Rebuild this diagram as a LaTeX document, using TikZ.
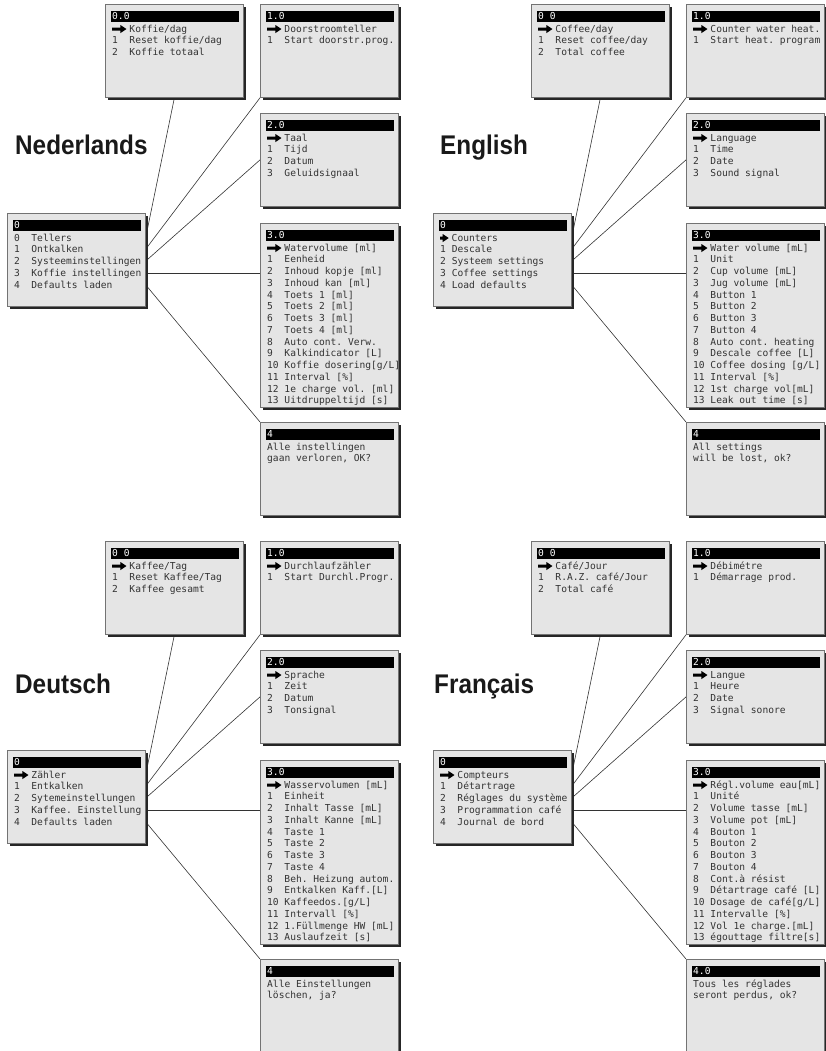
\documentclass[tikz,border=0pt]{standalone}
\usepackage{fontspec}
\setmainfont{Liberation Sans}
\setsansfont{Liberation Sans}
\setmonofont{DejaVu Sans Mono}
\usetikzlibrary{calc,shadows,backgrounds}

\newlength{\chw}
\setlength{\chw}{5.76pt}
% menu index column and menu arrow
\newcommand{\mi}[1]{\makebox[3\chw][l]{#1}}
\newcommand{\marr}[1][3]{\makebox[#1\chw][l]{\tikz[x=1pt,y=1pt,baseline=-3pt]\fill[black] (0,-1.5) -- ({#1*5.76-9},-1.5) -- ({#1*5.76-9},-4) -- ({#1*5.76-3},0) -- ({#1*5.76-9},4) -- ({#1*5.76-9},1.5) -- (0,1.5) -- cycle;}}

% display box: height, name, top left corner, header, rows
\newcommand{\lcdbox}[5][93]{%
  \node[lcd, minimum height=#1] (#2) at (#3) {};
  \fill[black] ($(#2.north west)+(6,7)$) rectangle ($(#2.north east)+(-5,18)$);
  \node[lcdhead] at ($(#2.north west)+(7,15.8)$) {#4};
  \node[lcdrows] at ($(#2.north west)+(7,19.6)$) {\strut#5};
}

% connectors from the main menu rows
\newcommand{\menulinks}[1]{%
  \foreach \row in {0,...,4}{\coordinate (#1m\row) at ($(#1m.north east)+(0,{24+12*\row})$);}
  \begin{scope}[on background layer]
    \draw[link] (#1m0) -- (#1b0.south);
    \draw[link] (#1m1) -- (#1b1.south west);
    \draw[link] (#1m2) -- (#1b2.west);
    \draw[link] (#1m3) -- (#1m3 -| #1b3.west);
    \draw[link] (#1m4) -- (#1b4.north west);
  \end{scope}
}

\begin{document}
\begin{tikzpicture}[x=1pt, y=-1pt,
    lcd/.style={rectangle, draw=black!55, line width=0.8pt, fill=gray!20, minimum width=138, anchor=north west, inner sep=0pt,
      drop shadow={shadow xshift=2.6pt, shadow yshift=-2.6pt, fill=black!85, opacity=1}},
    lcdhead/.style={anchor=base west, inner sep=0pt, text=white, font=\ttfamily\fontsize{9.6}{11.75}\selectfont},
    lcdrows/.style={anchor=north west, inner sep=0pt, align=left, text=black!80, font=\ttfamily\fontsize{9.6}{11.75}\selectfont},
    lang/.style={anchor=base west, inner sep=0pt, text=black!90, font=\sffamily\bfseries\fontsize{27}{27}\selectfont},
    link/.style={draw=black!80, line width=0.6pt}]

    \useasboundingbox (0,0) rectangle (826,1051);
    \clip (0,0) rectangle (826,1051);

    % Nederlands
    \node[lang] (nltitle) at (15,155) {\scalebox{0.9}[1]{Nederlands}};
    \lcdbox{nlb0}{105,4}{0.0}{\marr Koffie/dag\\
      \mi{1}Reset koffie/dag\\
      \mi{2}Koffie totaal}
    \lcdbox{nlb1}{260,4}{1.0}{\marr Doorstroomteller\\
      \mi{1}Start doorstr.prog.}
    \lcdbox{nlb2}{260,113}{2.0}{\marr Taal\\
      \mi{1}Tijd\\
      \mi{2}Datum\\
      \mi{3}Geluidsignaal}
    \lcdbox{nlm}{7,213}{0}{\mi{0}Tellers\\
      \mi{1}Ontkalken\\
      \mi{2}Systeeminstellingen\\
      \mi{3}Koffie instellingen\\
      \mi{4}Defaults laden}
    \lcdbox[184]{nlb3}{260,223}{3.0}{\marr Watervolume [ml]\\
      \mi{1}Eenheid\\
      \mi{2}Inhoud kopje [ml]\\
      \mi{3}Inhoud kan [ml]\\
      \mi{4}Toets 1 [ml]\\
      \mi{5}Toets 2 [ml]\\
      \mi{6}Toets 3 [ml]\\
      \mi{7}Toets 4 [ml]\\
      \mi{8}Auto cont. Verw.\\
      \mi{9}Kalkindicator [L]\\
      \mi{10}Koffie dosering[g/L]\\
      \mi{11}Interval [\%]\\
      \mi{12}1e charge vol. [ml]\\
      \mi{13}Uitdruppeltijd [s]}
    \lcdbox{nlb4}{260,422}{4}{Alle instellingen\\
      gaan verloren, OK?}
    \menulinks{nl}

    % English
    \node[lang] (entitle) at (440,155) {\scalebox{0.9}[1]{English}};
    \lcdbox{enb0}{531,4}{0 0}{\marr Coffee/day\\
      \mi{1}Reset coffee/day\\
      \mi{2}Total coffee}
    \lcdbox{enb1}{686,4}{1.0}{\marr Counter water heat.\\
      \mi{1}Start heat. program}
    \lcdbox{enb2}{686,113}{2.0}{\marr Language\\
      \mi{1}Time\\
      \mi{2}Date\\
      \mi{3}Sound signal}
    \lcdbox{enm}{433,213}{0}{\marr[2]Counters\\
      1 Descale\\
      2 Systeem settings\\
      3 Coffee settings\\
      4 Load defaults}
    \lcdbox[184]{enb3}{686,223}{3.0}{\marr Water volume [mL]\\
      \mi{1}Unit\\
      \mi{2}Cup volume [mL]\\
      \mi{3}Jug volume [mL]\\
      \mi{4}Button 1\\
      \mi{5}Button 2\\
      \mi{6}Button 3\\
      \mi{7}Button 4\\
      \mi{8}Auto cont. heating\\
      \mi{9}Descale coffee [L]\\
      \mi{10}Coffee dosing [g/L]\\
      \mi{11}Interval [\%]\\
      \mi{12}1st charge vol[mL]\\
      \mi{13}Leak out time [s]}
    \lcdbox{enb4}{686,422}{4}{All settings\\
      will be lost, ok?}
    \menulinks{en}

    % Deutsch
    \node[lang] (detitle) at (15,693) {\scalebox{0.9}[1]{Deutsch}};
    \lcdbox{deb0}{105,541}{0 0}{\marr Kaffee/Tag\\
      \mi{1}Reset Kaffee/Tag\\
      \mi{2}Kaffee gesamt}
    \lcdbox{deb1}{260,541}{1.0}{\marr Durchlaufzähler\\
      \mi{1}Start Durchl.Progr.}
    \lcdbox{deb2}{260,650}{2.0}{\marr Sprache\\
      \mi{1}Zeit\\
      \mi{2}Datum\\
      \mi{3}Tonsignal}
    \lcdbox{dem}{7,750}{0}{\marr Zähler\\
      \mi{1}Entkalken\\
      \mi{2}Sytemeinstellungen\\
      \mi{3}Kaffee. Einstellung\\
      \mi{4}Defaults laden}
    \lcdbox[184]{deb3}{260,760}{3.0}{\marr Wasservolumen [mL]\\
      \mi{1}Einheit\\
      \mi{2}Inhalt Tasse [mL]\\
      \mi{3}Inhalt Kanne [mL]\\
      \mi{4}Taste 1\\
      \mi{5}Taste 2\\
      \mi{6}Taste 3\\
      \mi{7}Taste 4\\
      \mi{8}Beh. Heizung autom.\\
      \mi{9}Entkalken Kaff.[L]\\
      \mi{10}Kaffeedos.[g/L]\\
      \mi{11}Intervall [\%]\\
      \mi{12}1.Füllmenge HW [mL]\\
      \mi{13}Auslaufzeit [s]}
    \lcdbox{deb4}{260,959}{4}{Alle Einstellungen\\
      löschen, ja?}
    \menulinks{de}

    % Francais
    \node[lang] (frtitle) at (434,693) {\scalebox{0.9}[1]{Français}};
    \lcdbox{frb0}{531,541}{0 0}{\marr Café/Jour\\
      \mi{1}R.A.Z. café/Jour\\
      \mi{2}Total café}
    \lcdbox{frb1}{686,541}{1.0}{\marr Débimétre\\
      \mi{1}Démarrage prod.}
    \lcdbox{frb2}{686,650}{2.0}{\marr Langue\\
      \mi{1}Heure\\
      \mi{2}Date\\
      \mi{3}Signal sonore}
    \lcdbox{frm}{433,750}{0}{\marr Compteurs\\
      \mi{1}Détartrage\\
      \mi{2}Réglages du système\\
      \mi{3}Programmation café\\
      \mi{4}Journal de bord}
    \lcdbox[184]{frb3}{686,760}{3.0}{\marr Régl.volume eau[mL]\\
      \mi{1}Unité\\
      \mi{2}Volume tasse [mL]\\
      \mi{3}Volume pot [mL]\\
      \mi{4}Bouton 1\\
      \mi{5}Bouton 2\\
      \mi{6}Bouton 3\\
      \mi{7}Bouton 4\\
      \mi{8}Cont.à résist\\
      \mi{9}Détartrage café [L]\\
      \mi{10}Dosage de café[g/L]\\
      \mi{11}Intervalle [\%]\\
      \mi{12}Vol 1e charge.[mL]\\
      \mi{13}égouttage filtre[s]}
    \lcdbox{frb4}{686,959}{4.0}{Tous les réglades\\
      seront perdus, ok?}
    \menulinks{fr}

\end{tikzpicture}
\end{document}
